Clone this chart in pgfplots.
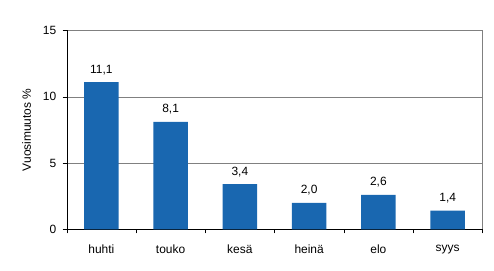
\documentclass[border=0pt]{standalone}
\usepackage{pgfplots}
\pgfplotsset{compat=1.18}
\usepackage{fontspec}
\setmainfont{Liberation Sans}
\definecolor{barblue}{RGB}{25,103,176}
\definecolor{gridgray}{RGB}{128,128,128}
\begin{document}
\begin{tikzpicture}[x=1bp,y=1bp]
\path[use as bounding box] (0,0) rectangle (494,270);
\begin{axis}[
  at={(66.7bp,40.7bp)}, anchor=south west,
  scale only axis, width=415.6bp, height=198.9bp,
  xmin=-0.5, xmax=5.5, ymin=0, ymax=15,
  ytick={0,5,10,15},
  xtick={0,...,5},
  xticklabels={huhti,touko,kesä,heinä,elo,syys},
  minor xtick={-0.5,0.5,...,5.5},
  major x tick style={draw=none},
  minor x tick style={black},
  minor tick length=4bp, major tick length=4bp,
  tick align=outside,
  axis x line*=bottom, axis y line*=left,
  axis line style={black, thin},
  y tick style={black},
  ymajorgrids, grid style={gridgray, thin},
  ylabel={Vuosimuutos \%},
  ylabel style={at={(axis description cs:-0.0963,0.5)}, anchor=center},
  tick label style={font=\fontsize{12}{14}\selectfont},
  label style={font=\fontsize{12}{14}\selectfont},
  xticklabel style={yshift=-8bp},
  yticklabel style={xshift=-3bp},
  /pgf/number format/assume math mode=true,
  ybar, bar width=34.5bp,
  nodes near coords,
  nodes near coords style={font=\fontsize{12}{14}\selectfont, yshift=4bp,
    /pgf/number format/.cd, fixed, fixed zerofill, precision=1, use comma, assume math mode=true},
  clip=false,
]
\addplot[fill=barblue, draw=none] coordinates {(0,11.1) (1,8.1) (2,3.4) (3,2.0) (4,2.6) (5,1.4)};
\draw[gridgray, thin] (rel axis cs:1,0) -- (rel axis cs:1,1);
\end{axis}
\end{tikzpicture}
\end{document}
